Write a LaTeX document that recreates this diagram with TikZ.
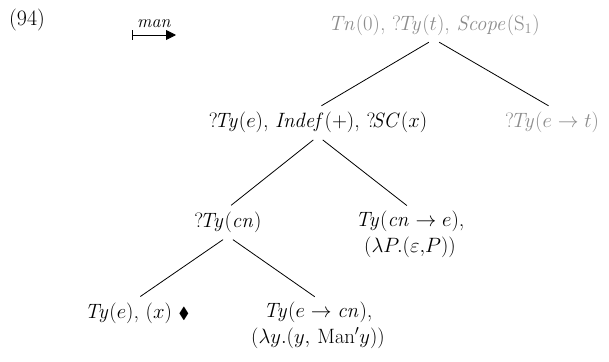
\documentclass[tikz,border=0pt]{standalone}
\usepackage{amssymb}
\usetikzlibrary{positioning, arrows.meta}

\colorlet{pending}{black!45}

\begin{document}
\begin{tikzpicture}[
    x=1pt, y=-1pt,
    every node/.style={font=\fontsize{22}{26}\selectfont},
    tn/.style={inner xsep=1pt, inner ysep=3pt, text height=16.5pt, text depth=5.5pt},
    req/.style={tn, text=pending},
    pair/.style={inner xsep=1pt, inner ysep=3pt, align=center, anchor=north},
    branch/.style={line width=0.8pt, shorten <=6pt, shorten >=4pt},
    trans/.style={line width=0.9pt, {Bar[width=10pt]}-{Triangle[length=10pt, width=10pt]}},
  ]
    \useasboundingbox (0,0) rectangle (609,361);

    \node[inner sep=0pt] (num) at (27,20) {(94)};
    \coordinate (tstart) at (132,35);
    \coordinate (tend) at (176,35);
    \draw[trans] (tstart) -- node[above=7pt, inner sep=0pt, font=\fontsize{18}{20}\selectfont]{\textit{man}} (tend);

    % tree
    \node[req] (root) at (434,25)
      {$\mathit{Tn}(0)$, $?\!\mathit{Ty}(t)$, $\mathit{Scope}(\mathrm{S}_1)$};
    \node[tn] (indef) at (318,122)
      {$?\!\mathit{Ty}(e)$, $\mathit{Indef}(+)$, $?\!\mathit{SC}(x)$};
    \node[req] (pred) at (552,122) {$?\!\mathit{Ty}(e\rightarrow t)$};
    \node[tn] (cn) at (228,222) {$?\!\mathit{Ty}(\mathit{cn})$};
    \node[pair] (det) at (410,208)
      {$\mathit{Ty}(\mathit{cn}\rightarrow e)$,\\ $(\lambda P.(\varepsilon{,}P))$};
    \node[tn] (var) at (137,313)
      {$\mathit{Ty}(e)$, $(x)$ {\fontsize{16}{20}\selectfont$\blacklozenge$}};
    \node[pair] (restr) at (318,299)
      {$\mathit{Ty}(e\rightarrow \mathit{cn})$,\\ $(\lambda y.(y,\,\mathrm{Man}'y))$};

    \draw[branch] (root.south) -- (indef.north);
    \draw[branch] (root.south) -- (pred.north);
    \draw[branch] (indef.south) -- (cn.north);
    \draw[branch] (indef.south) -- (det.north);
    \draw[branch] (cn.south) -- (var.north);
    \draw[branch] (cn.south) -- (restr.north);
\end{tikzpicture}
\end{document}
